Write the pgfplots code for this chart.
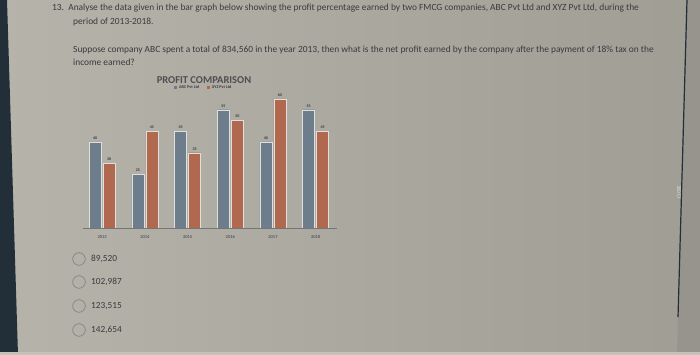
\documentclass[border=0pt]{standalone}
\usepackage{fontspec}
\setmainfont{Carlito}
\usepackage{pgfplots}
\pgfplotsset{compat=1.18}
\definecolor{bgL}{RGB}{182,179,171}
\definecolor{bgR}{RGB}{160,157,149}
\definecolor{strip}{RGB}{34,46,56}
\definecolor{abc}{RGB}{110,125,140}
\definecolor{xyz}{RGB}{176,104,78}
\definecolor{txt}{RGB}{58,58,60}
\begin{document}
\begin{tikzpicture}[x=1pt,y=1pt]
\clip (0,0) rectangle (700,355);
\shade[left color=bgL,right color=bgR] (0,0) rectangle (700,355);
% right screen edge
\fill[bgR!94!black] (686,355) -- (700,355) -- (700,0) -- (677,0) -- cycle;
\draw[line width=1.2pt, strip] (687,355) -- (678,38);
\node[rotate=90, text=white!80!gray, font=\fontsize{5}{5}\selectfont] at (679,163) {CLOSE};
% left dark strip
\fill[strip] (0,355) -- (7,355) -- (18,0) -- (0,0) -- cycle;
% bottom light edge
\fill[bgL!80!white] (0,0) rectangle (700,2.5);
% question text
\begin{scope}[every node/.style={anchor=base west, inner sep=0pt, text=txt, font=\fontsize{9.4}{11}\selectfont}]
\node at (52,344) {13.\ \ Analyse the data given in the bar graph below showing the profit percentage earned by two FMCG companies, ABC Pvt Ltd and XYZ Pvt Ltd, during the};
\node at (73,330) {period of 2013-2018.};
\node at (73,302) {Suppose company ABC spent a total of 834,560 in the year 2013, then what is the net profit earned by the company after the payment of 18\% tax on the};
\node at (73,289) {income earned?};
\end{scope}
% title
\node[text=txt!90!white, font=\fontsize{10.5}{11}\selectfont\bfseries] at (204,275) {PROFIT COMPARISON};
\begin{axis}[
  at={(83pt,127pt)}, anchor=south west, scale only axis,
  width=254pt, height=150.5pt,
  xmin=-0.45, xmax=5.5, ymin=0, ymax=70,
  axis y line=none, axis x line*=bottom,
  x axis line style={draw=txt!70!white, line width=0.6pt, -},
  xtick=data, xticklabels={2013,2014,2015,2016,2017,2018},
  xtick style={draw=none},
  xticklabel style={font=\fontsize{4.5}{5}\selectfont, text=txt},
  ybar=2pt, bar width=12pt,
  nodes near coords,
  /pgf/number format/assume math mode=true,
  nodes near coords style={font=\fontsize{4}{4}\selectfont\bfseries, text=txt, yshift=-1pt},
  legend style={at={(0.476,0.935)}, anchor=center, draw=none, fill=none,
    font=\fontsize{4.2}{4.5}\selectfont\bfseries, text=txt, legend columns=2,
    /tikz/every even column/.append style={column sep=6pt}},
  legend image code/.code={\fill[#1, draw=none] (0,-1.4pt) rectangle (2.8pt,1.4pt);},
]
\addplot[fill=abc, draw=white!75!gray, line width=0.4pt] coordinates {(0,40) (1,25) (2,45) (3,55) (4,40) (5,55)};
\addplot[fill=xyz, draw=white!75!gray, line width=0.4pt] coordinates {(0,30) (1,45) (2,35) (3,50) (4,60) (5,45)};
\legend{ABC Pvt Ltd, XYZ Pvt Ltd}
\end{axis}
% options
\foreach \y/\t in {96/{89,520}, 73/{102,987}, 49/{123,515}, 25/{142,654}} {
  \draw[txt!70!white, line width=0.5pt] (79,\y) circle (6.3);
  \node[anchor=west, inner sep=0pt, text=txt, font=\fontsize{9.3}{10}\selectfont] at (91,\y) {\t};
}
\end{tikzpicture}
\end{document}
